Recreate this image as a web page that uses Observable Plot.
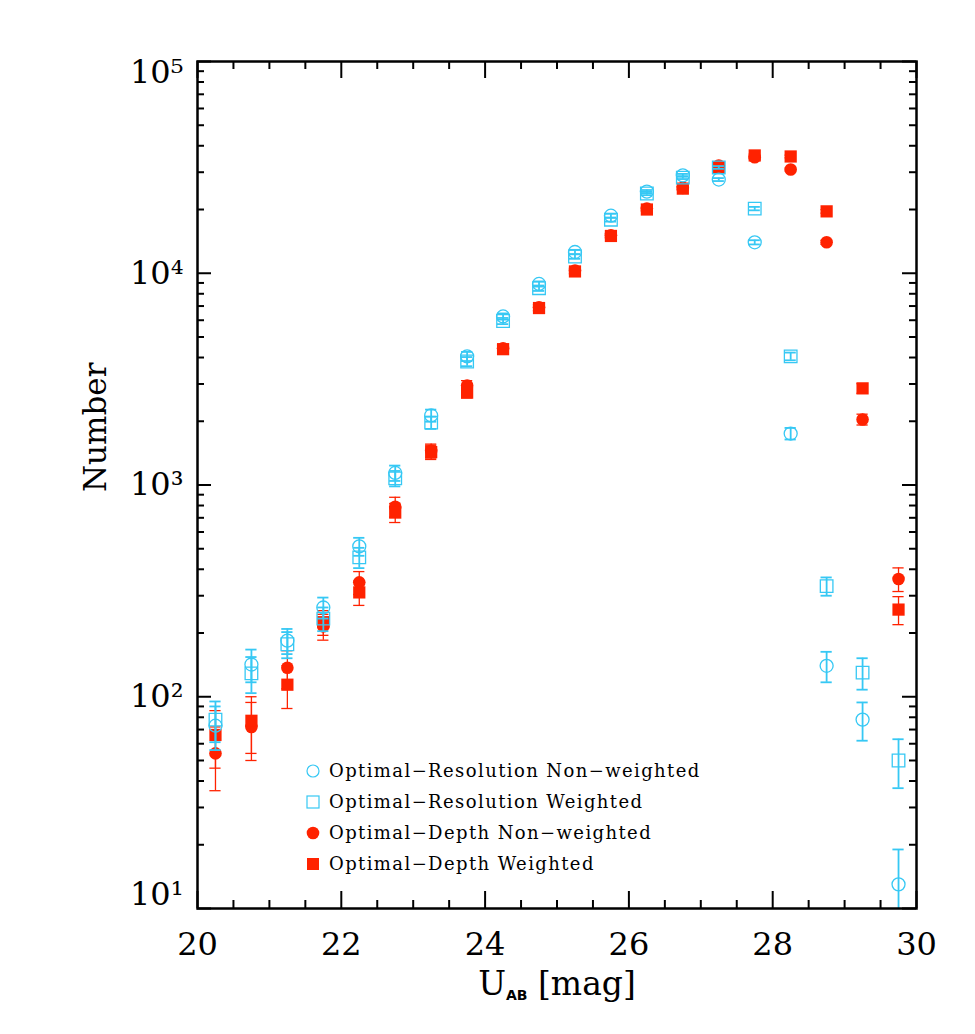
<!DOCTYPE html>
<html>
<head>
<meta charset="utf-8">
<script src="https://cdn.jsdelivr.net/npm/d3@7"></script>
<script src="https://cdn.jsdelivr.net/npm/@observablehq/plot@0.6"></script>
<style>
  body { margin: 0; background: #fff; }
  #chart { position: relative; width: 975px; height: 1034px; }
  #chart svg { display: block; }
  #legend {
    position: absolute; left: 305px; top: 755px;
    font-family: "DejaVu Serif", serif; font-size: 18px; letter-spacing: 1.4px; color: #000;
  }
  #legend .row { display: flex; align-items: center; height: 31px; }
  #legend .row svg { margin-right: 8px; }
</style>
</head>
<body>
<div id="chart"><div id="legend"></div></div>
<script>
// Bin centres of the U-band magnitude histogram
const magBins = [20.25, 20.75, 21.25, 21.75, 22.25, 22.75, 23.25, 23.75, 24.25, 24.75,
                 25.25, 25.75, 26.25, 26.75, 27.25, 27.75, 28.25, 28.75, 29.25, 29.75];

// Optimal-Resolution catalogue
const resNonWeighted    = [73, 142, 184, 264, 513, 1140, 2130, 4050, 6250, 8900,
                           12600, 18700, 24300, 29000, 27700, 14000, 1750, 140, 78, 13];
const resNonWeightedErr = [17, 25, 25, 30, 50, 95, 140, 200, 210, 250,
                           300, 380, 420, 450, 450, 320, 110, 23, 16, 6];
const resWeighted       = [78, 129, 177, 234, 455, 1075, 1970, 3830, 5950, 8500,
                           12000, 17900, 23800, 28300, 31600, 20200, 4050, 333, 130, 50];
const resWeightedErr    = [17, 25, 25, 30, 50, 90, 130, 190, 200, 250,
                           300, 370, 420, 450, 480, 380, 170, 33, 22, 13];

// Optimal-Depth catalogue
const depthNonWeighted    = [54, 72, 137, 215, 347, 790, 1450, 2950, 4420, 6900,
                             10300, 15100, 20200, 25300, 32300, 35300, 30900, 14000, 2040, 360];
const depthNonWeightedErr = [18, 22, 28, 30, 43, 85, 110, 160, 180, 220,
                             280, 340, 380, 420, 480, 500, 480, 300, 120, 46];
const depthWeighted       = [66, 77, 114, 225, 311, 741, 1430, 2730, 4380, 6850,
                             10200, 15000, 20000, 25100, 31600, 36000, 35600, 19600, 2860, 258];
const depthWeightedErr    = [20, 23, 26, 30, 41, 76, 110, 150, 180, 220,
                             280, 340, 380, 420, 480, 520, 520, 380, 150, 39];

const seriesNames = [
  "Optimal−Resolution Non−weighted",
  "Optimal−Resolution Weighted",
  "Optimal−Depth Non−weighted",
  "Optimal−Depth Weighted"
];

// Axis ticks
const xMajorTicks = [20, 22, 24, 26, 28, 30];
const xMinorTicks = d3.range(20, 30.001, 0.5).filter(v => v % 2 !== 0);
const yMajorTicks = [10, 100, 1000, 10000, 100000];
const yMinorTicks = [10, 100, 1000, 10000].flatMap(p => d3.range(2, 10).map(m => m * p));
const xTitle = "U_AB [mag]";
const yTitle = "Number";

// Series styling
const cyan = "#36c8f4";
const red = "#ff2200";
const styles = [
  {symbol: "circle", color: cyan, filled: false, r: 6.5},
  {symbol: "square", color: cyan, filled: false, r: 7.1},
  {symbol: "circle", color: red, filled: true, r: 6.3},
  {symbol: "square", color: red, filled: true, r: 6.9}
];

const valueSets = [
  [resNonWeighted, resNonWeightedErr],
  [resWeighted, resWeightedErr],
  [depthNonWeighted, depthNonWeightedErr],
  [depthWeighted, depthWeightedErr]
];
const tables = valueSets.map(([vals, errs]) =>
  magBins.map((mag, i) => ({mag, n: vals[i], lo: vals[i] - errs[i], hi: vals[i] + errs[i]})));

const W = 975, H = 1034;
const margin = {left: 197, right: 59, top: 61, bottom: 126};
const innerW = W - margin.left - margin.right;
const innerH = H - margin.top - margin.bottom;
const capHalf = 0.078; // half-width of error-bar caps, in magnitudes

function seriesMarks(k) {
  const data = tables[k], s = styles[k];
  const sw = s.filled ? 1.3 : 1.8;
  return [
    Plot.ruleX(data, {x: "mag", y1: d => Math.max(d.lo, 1), y2: "hi", stroke: s.color, strokeWidth: sw, clip: true}),
    Plot.ruleY(data, {y: "hi", x1: d => d.mag - capHalf, x2: d => d.mag + capHalf, stroke: s.color, strokeWidth: sw, clip: true}),
    Plot.ruleY(data.filter(d => d.lo > 0), {y: "lo", x1: d => d.mag - capHalf, x2: d => d.mag + capHalf, stroke: s.color, strokeWidth: sw, clip: true}),
    Plot.dot(data, {
      x: "mag", y: "n", symbol: s.symbol, r: s.r,
      fill: s.filled ? s.color : "none",
      stroke: s.filled ? "none" : s.color,
      strokeWidth: 1.3, clip: true
    })
  ];
}

const sup = {1: "¹", 2: "²", 3: "³", 4: "⁴", 5: "⁵"};
const powerLabel = d => "10" + sup[Math.round(Math.log10(d))];
// decade labels; the outermost ones are kept inside the frame's height
const yLabel = (ticks, dy) => Plot.text(ticks, {
  y: d => d, text: powerLabel, frameAnchor: "left", textAnchor: "end",
  dx: -14, dy, fontSize: 32
});

const chart = Plot.plot({
  width: W, height: H,
  marginLeft: margin.left, marginRight: margin.right,
  marginTop: margin.top, marginBottom: margin.bottom,
  style: {fontFamily: "'DejaVu Serif', serif", background: "#fff", color: "#000"},
  x: {domain: [20, 30]},
  y: {type: "log", domain: [10, 100000], axis: null},
  marks: [
    // inward ticks on all four sides
    Plot.tickX(xMajorTicks, {x: d => d, insetTop: innerH - 17, strokeWidth: 2}),
    Plot.tickX(xMajorTicks, {x: d => d, insetBottom: innerH - 17, strokeWidth: 2}),
    Plot.tickX(xMinorTicks, {x: d => d, insetTop: innerH - 8, strokeWidth: 2}),
    Plot.tickX(xMinorTicks, {x: d => d, insetBottom: innerH - 8, strokeWidth: 2}),
    Plot.tickY(yMajorTicks, {y: d => d, insetRight: innerW - 14, strokeWidth: 2}),
    Plot.tickY(yMajorTicks, {y: d => d, insetLeft: innerW - 14, strokeWidth: 2}),
    Plot.tickY(yMinorTicks, {y: d => d, insetRight: innerW - 7, strokeWidth: 2}),
    Plot.tickY(yMinorTicks, {y: d => d, insetLeft: innerW - 7, strokeWidth: 2}),
    Plot.axisX({ticks: xMajorTicks, tickSize: 0, tickPadding: 24, fontSize: 32, label: null, tickFormat: d => String(d)}),
    yLabel(yMajorTicks.slice(1, -1), 0),
    yLabel(yMajorTicks.slice(-1), 11),
    yLabel(yMajorTicks.slice(0, 1), -14),
    Plot.text([yTitle], {text: d => d, frameAnchor: "left", rotate: -90, dx: -101, dy: 7, fontSize: 31}),
    Plot.text([xTitle], {text: d => d, frameAnchor: "bottom", dy: 86, fontSize: 33, className: "x-title"}),
    // Optimal-Depth first, Optimal-Resolution drawn on top
    ...seriesMarks(2), ...seriesMarks(3),
    ...seriesMarks(0), ...seriesMarks(1),
    Plot.frame({stroke: "#000", strokeWidth: 2.5})
  ]
});

// x title with subscript
const xt = d3.select(chart).select(".x-title text");
const [main, rest] = xTitle.split("_");
const [sub, tail] = [rest.split(" ")[0], rest.slice(rest.indexOf(" "))];
xt.text(null);
xt.append("tspan").text(main);
xt.append("tspan").attr("font-size", 14).attr("font-family", "'DejaVu Sans', sans-serif")
  .attr("font-weight", "bold").attr("dy", 5).text(sub);
xt.append("tspan").attr("dy", -5).text(tail);

const host = document.getElementById("chart");
host.insertBefore(chart, host.firstChild);

// Legend
const legend = d3.select("#legend");
seriesNames.forEach((name, k) => {
  const s = styles[k];
  const row = legend.append("div").attr("class", "row");
  const g = row.append("svg").attr("width", 16).attr("height", 16);
  if (s.symbol === "circle") {
    g.append("circle").attr("cx", 8).attr("cy", 8).attr("r", s.filled ? 6.3 : 6)
      .attr("fill", s.filled ? s.color : "none").attr("stroke", s.filled ? "none" : s.color).attr("stroke-width", 1.2);
  } else {
    g.append("rect").attr("x", 2).attr("y", 2).attr("width", 12).attr("height", 12)
      .attr("fill", s.filled ? s.color : "none").attr("stroke", s.filled ? "none" : s.color).attr("stroke-width", 1.2);
  }
  row.append("span").text(name);
});
</script>
</body>
</html>
